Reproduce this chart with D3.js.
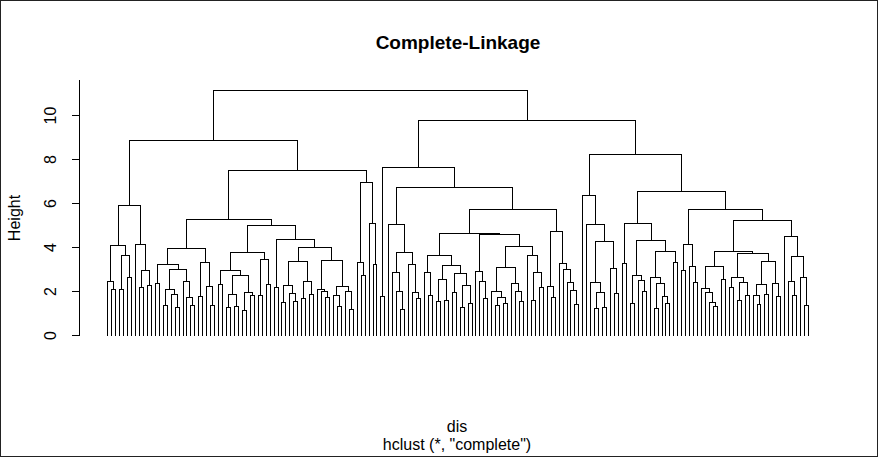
<!DOCTYPE html>
<html>
<head>
<meta charset="utf-8">
<script src="https://cdn.jsdelivr.net/npm/d3@7"></script>
<style>
  html, body { margin: 0; padding: 0; background: #ffffff; }
  svg { display: block; }
  text { font-family: "Liberation Sans", Arial, sans-serif; fill: #000; }
</style>
</head>
<body>
<script>
// ---------------- DATA ----------------
// Dendrogram of 178 observations (leaves in plotted order 0..177).
// Internal node = [mergeHeight, leftChild, rightChild]; leaf = its position index.
const clusterA = [5.89,
  [4.1, [2.46, 0, [2.1, 1, 2]], [3.64, [2.1, 3, 4], [2.64, 5, 6]]],
  [4.14, 7, [2.96, [2.19, 8, 9], [2.28, 10, 11]]]];

const clusterB1 = [3.96,
  [3.24, [2.37, 12, 13],
    [3.0, [2.08, [1.37, 14, 15], [1.87, 16, [1.28, 17, 18]]],
          [2.46, 19, [1.74, 20, [1.37, 21, 22]]]]],
  [3.33, [1.78, 23, 24], [2.24, 25, [1.37, 26, 27]]]];

const clusterB2a = [3.78,
  [2.96, [2.33, 28, 29],
    [2.74, [1.87, [1.28, 30, 31], [1.34, 32, 33]], [1.96, [1.15, 34, 35], [1.83, 36, 37]]]],
  [3.46, [1.83, 38, 39], [2.33, 40, 41]]];

const clusterB2b = [4.37, [2.19, 42, 43],
  [4.01,
    [3.37, [2.28, [1.51, 44, 45], [1.92, 46, [1.55, 47, 48]]], [2.46, [1.69, 49, 50], [1.87, 51, 52]]],
    [3.42, [2.1, 53, [2.0, 54, [1.74, 55, 56]]],
           [2.24, [1.83, 57, [1.33, 58, 59]], [2.0, 60, [1.19, 61, 62]]]]]];

const clusterC = [6.96, [3.33, 63, [2.74, 64, 65]], [5.1, 66, [3.24, 67, 68]]];

const clusterD = [5.05, 71,
  [3.78, [2.87, 72, [2.0, 73, [1.19, 74, 75]]], [3.24, 76, [1.96, 77, [1.69, 78, 79]]]]];

const clusterE1 = [3.64, [2.87, 80, [1.83, 81, 82]],
  [3.19, [2.55, [1.55, 83, 84], [1.6, 85, 86]],
         [2.83, [1.96, 87, 88], [2.28, [1.28, 89, 90], [1.46, 91, 92]]]]];

const clusterE2 = [4.6, [2.92, 93, [2.46, 94, [1.69, 95, 96]]],
  [4.05,
    [3.1, [2.0, 97, [1.74, [1.38, 98, 99], [1.46, 100, 101]]], [2.37, 102, [2.0, 103, [1.55, 104, 105]]]],
    [3.64, 106, [2.87, [1.6, 107, 108], [2.19, 109, 110]]]]];

const clusterE3 = [4.74, [2.24, 111, [1.74, 112, 113]],
  [3.28, 114, [3.0, 115, [2.42, 116, [2.05, 117, [1.42, 118, 119]]]]]];

const clusterG1 = [6.37, 120,
  [5.05, 121, [4.28, [2.42, 122, [1.96, [1.24, 123, 124], [1.28, 125, 126]]], [3.05, 127, [1.92, 128, 129]]]]];

const clusterG2 = [5.1, [3.28, 130, 131],
  [4.33, [2.74, [1.46, 132, 133], [2.51, 134, [2.0, 135, 136]]],
         [3.83, [2.64, 137, [2.37, [1.24, 138, 139], [1.78, 140, [1.46, 141, 142]]]], [3.33, 143, 144]]]];

const clusterG3 = [4.15, [2.96, 145, 146], [3.15, 147, [2.42, 148, 149]]];

const clusterG4 = [5.24,
  [3.83,
    [3.15, [2.14, 150, [1.96, 151, [1.51, 152, [1.33, 153, 154]]]], [2.55, 155, 156]],
    [3.74, [2.64, [2.19, 157, 158], [2.42, [1.6, 159, 160], [1.83, 161, 162]]],
           [3.37, [2.33, [1.83, 163, [1.42, 164, 165]], [1.87, 166, 167]], [2.37, 168, [1.78, 169, 170]]]]],
  [4.5, 171, [3.6, [2.46, 172, [1.83, 173, 174]], [2.64, 175, [1.37, 176, 177]]]]];

// upper merges joining the clusters above
const leftBranch  = [8.88, clusterA, [7.5, [5.28, clusterB1, [5.01, clusterB2a, clusterB2b]], clusterC]];
const rightBranch = [9.78,
  [7.65, [1.78, 69, 70], [6.74, clusterD, [5.74, [4.64, clusterE1, clusterE2], clusterE3]]],
  [8.24, clusterG1, [6.55, clusterG2, [5.74, clusterG3, clusterG4]]]];
const rootHeight = 11.15;

const leafCount = 178;
const yTicks = [0, 2, 4, 6, 8, 10];
const titleText = "Complete-Linkage";
const xLabel = "dis";
const subLabel = "hclust (*, \"complete\")";
const yLabel = "Height";

// ---------------- DRAW ----------------
const W = 878, H = 457;
const svg = d3.select("body").append("svg").attr("width", W).attr("height", H);
svg.append("rect").attr("x", 0).attr("y", 0).attr("width", W).attr("height", H).attr("fill", "#fff");

const x = d3.scaleLinear().domain([0, leafCount - 1]).range([107.3, 808.0]);
const y = d3.scaleLinear().domain([0, 11.636]).range([335, 79]);

const tree = [rootHeight, leftBranch, rightBranch];
const root = d3.hierarchy(tree, d => Array.isArray(d) ? d.slice(1) : null);

root.eachAfter(n => {
  if (n.children) {
    n.h = n.data[0];
    n.px = (n.children[0].px + n.children[1].px) / 2;
  } else {
    n.h = 0;
    n.px = x(n.data);
  }
});

const snapX = v => Math.round(v) + 0.5;
const snapY = v => Math.round(v) + 0.5;

const g = svg.append("g");
const internals = root.descendants().filter(n => n.children);
g.selectAll("path.link").data(internals).join("path")
  .attr("class", "link")
  .attr("fill", "none")
  .attr("stroke", "#000")
  .attr("stroke-width", 1)
  .attr("shape-rendering", "crispEdges")
  .attr("d", n => {
    const [a, b] = n.children;
    const yn = snapY(y(n.h));
    return `M${snapX(a.px)},${snapY(y(a.h))}V${yn}H${snapX(b.px)}V${snapY(y(b.h))}`;
  });

// y axis
const axis = svg.append("g")
  .attr("transform", "translate(79,0)")
  .call(d3.axisLeft(y).tickValues(yTicks).tickSize(7).tickSizeOuter(0).tickFormat(d3.format("d")));
axis.select(".domain").attr("stroke", "#000").attr("shape-rendering", "crispEdges");
axis.selectAll(".tick line").attr("stroke", "#000").attr("shape-rendering", "crispEdges");
axis.selectAll(".tick text")
  .attr("transform", "rotate(-90)")
  .attr("x", 0)
  .attr("y", -23.5)
  .attr("dy", null)
  .attr("text-anchor", "middle")
  .attr("font-size", 16)
  .attr("font-family", "Liberation Sans, Arial, sans-serif")
  .attr("fill", "#000");

// labels
svg.append("text").attr("x", 458).attr("y", 49).attr("text-anchor", "middle")
  .attr("font-size", 19).attr("font-weight", "bold").text(titleText);
svg.append("text").attr("x", 457).attr("y", 432).attr("text-anchor", "middle")
  .attr("font-size", 16).text(xLabel);
svg.append("text").attr("x", 457).attr("y", 450).attr("text-anchor", "middle")
  .attr("font-size", 16).text(subLabel);
svg.append("text").attr("transform", "translate(19.5,218) rotate(-90)").attr("text-anchor", "middle")
  .attr("font-size", 16).text(yLabel);

// frame
svg.append("rect").attr("x", 0.5).attr("y", 0.5).attr("width", W - 1).attr("height", H - 1)
  .attr("fill", "none").attr("stroke", "#222").attr("stroke-width", 1);
</script>
</body>
</html>
